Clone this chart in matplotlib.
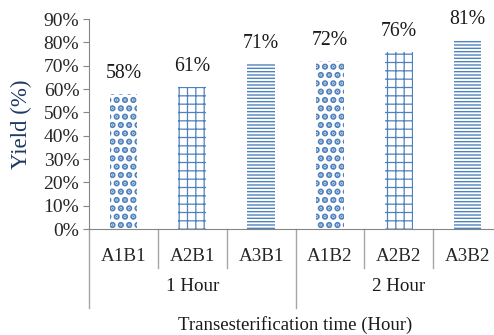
import matplotlib.pyplot as plt

plt.rcParams['font.family'] = ['Liberation Serif', 'DejaVu Serif']
plt.rcParams['hatch.color'] = '#4F81BD'

categories = ['A1B1', 'A2B1', 'A3B1', 'A1B2', 'A2B2', 'A3B2']
groups = ['1 Hour', '2 Hour']
yields = [58, 61, 71, 72, 76, 81]
yticks = [0, 10, 20, 30, 40, 50, 60, 70, 80, 90]
hatches = ['..', '++', '-----', '..', '++', '-----']
hatch_lw = [3.2, 0.9, 1.0, 3.2, 0.9, 1.0]

fig = plt.figure(figsize=(4.94, 3.35), dpi=100)
ax = fig.add_axes([89 / 494, 106 / 335, 413 / 494, 210 / 335])

x = list(range(len(categories)))
bars = ax.bar(x, yields, width=0.4, color='white', edgecolor='#4F81BD', linewidth=0)
for b, h, lw in zip(bars, hatches, hatch_lw):
    b.set_hatch(h)
    try:
        b.set_hatch_linewidth(lw)
    except AttributeError:
        pass

for xi, v in zip(x, yields):
    ax.text(xi, v + 8.7, f'{v}%', ha='center', va='center', fontsize=14.2, color='#1a1a1a')

ax.set_xlim(-0.5, len(categories) - 0.5)
ax.set_ylim(0, 90)
ax.set_yticks(yticks)
ax.set_yticklabels([f'{t}%' for t in yticks], fontsize=14, color='#262626')
ax.tick_params(axis='y', length=4, color='#868686', pad=3)
ax.set_xticks([])

for s in ['top', 'right']:
    ax.spines[s].set_visible(False)
for s in ['left', 'bottom']:
    ax.spines[s].set_color('#868686')

tr = ax.get_xaxis_transform()
# category separators (short) and group separators (long)
for i in range(len(categories) + 1):
    depth = -0.376 if i % 3 == 0 else -0.186
    ax.plot([i - 0.5, i - 0.5], [0, depth], transform=tr, color='#a6a6a6',
            lw=1, clip_on=False)
for xi, c in zip(x, categories):
    ax.text(xi, -0.133, c, transform=tr, ha='center', va='center', fontsize=13.7,
            color='#262626')
for gi, g in enumerate(groups):
    ax.text(gi * 3 + 1, -0.276, g, transform=tr, ha='center', va='center',
            fontsize=13.7, color='#1a1a1a')

fig.text(295 / 494, 1 - 325 / 335, 'Transesterification time (Hour)', ha='center',
         va='center', fontsize=13.5, color='#1a1a1a')
fig.text(21 / 494, 1 - 124 / 335, 'Yield (%)', rotation=90, ha='center', va='center',
         fontsize=16.5, color='#1f3a60')

fig.savefig('out.png', dpi=100)
